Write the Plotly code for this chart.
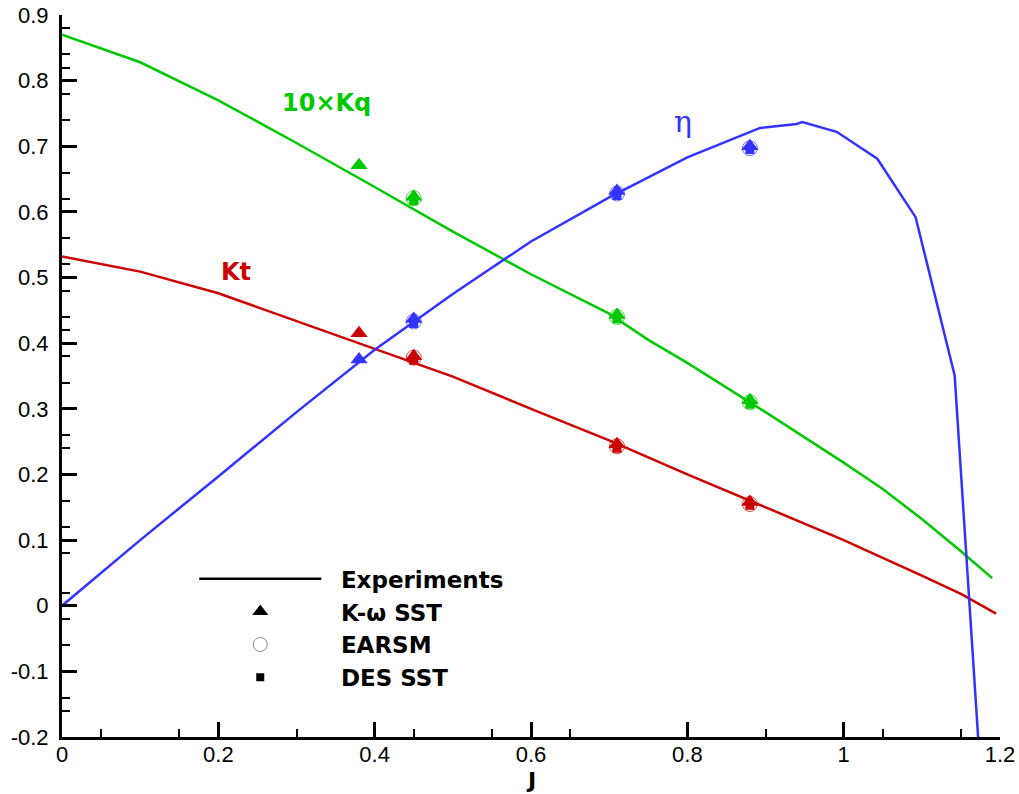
import plotly.graph_objects as go

# ---- data ----
J_kt_exp = [0, 0.1, 0.2, 0.3, 0.4, 0.5, 0.6, 0.7, 0.8, 0.9, 1.0, 1.1, 1.15, 1.195]
Kt_exp = [0.532, 0.509, 0.476, 0.434, 0.392, 0.349, 0.300, 0.252, 0.200, 0.150, 0.100, 0.046, 0.018, -0.012]

J_kq_exp = [0, 0.1, 0.2, 0.3, 0.4, 0.5, 0.6, 0.7, 0.75, 0.8, 0.9, 1.0, 1.05, 1.1, 1.15, 1.19]
Kq10_exp = [0.870, 0.828, 0.770, 0.705, 0.638, 0.570, 0.505, 0.445, 0.405, 0.370, 0.295, 0.218, 0.178, 0.132, 0.083, 0.042]

J_eta_exp = [0, 0.1, 0.2, 0.3, 0.4, 0.5, 0.6, 0.7, 0.8, 0.867, 0.893, 0.94, 0.947, 0.991, 1.043, 1.092, 1.142, 1.172]
Eta_exp = [0, 0.100, 0.197, 0.295, 0.390, 0.475, 0.555, 0.622, 0.683, 0.716, 0.728, 0.734, 0.737, 0.722, 0.681, 0.592, 0.351, -0.2]

J_sst = [0.38, 0.45, 0.71, 0.88]
Kt_sst = [0.415, 0.380, 0.246, 0.158]
Kq10_sst = [0.671, 0.623, 0.443, 0.313]
Eta_sst = [0.375, 0.437, 0.632, 0.700]

J_earsm = [0.45, 0.71, 0.88]
Kt_earsm = [0.378, 0.243, 0.155]
Kq10_earsm = [0.621, 0.440, 0.310]
Eta_earsm = [0.433, 0.628, 0.697]

J_des = [0.45, 0.71, 0.88]
Kt_des = [0.374, 0.240, 0.153]
Kq10_des = [0.617, 0.437, 0.307]
Eta_des = [0.430, 0.625, 0.695]

x_tickvals = [0, 0.2, 0.4, 0.6, 0.8, 1.0, 1.2]
x_ticktext = ["0", "0.2", "0.4", "0.6", "0.8", "1", "1.2"]
y_tickvals = [-0.2, -0.1, 0, 0.1, 0.2, 0.3, 0.4, 0.5, 0.6, 0.7, 0.8, 0.9]
y_ticktext = ["-0.2", "-0.1", "0", "0.1", "0.2", "0.3", "0.4", "0.5", "0.6", "0.7", "0.8", "0.9"]
x_minor = [0.05, 0.15, 0.3, 0.45, 0.55, 0.65, 0.9, 1.05, 1.15]
y_minor = [0.88, 0.84, 0.82, 0.78, 0.74, 0.66, 0.62, 0.56, 0.52, 0.48, 0.44, 0.42, 0.38, 0.34,
           0.26, 0.24, 0.16, 0.12, 0.08, 0.02, -0.02, -0.06, -0.14, -0.16]

legend_names = ["Experiments", "K-ω SST", "EARSM", "DES SST"]
x_title = "J"

RED = "#cc0000"
GREEN = "#00c800"
BLUE = "#3333ff"

fig = go.Figure()

# experiments (lines)
for xs, ys, c in [(J_kq_exp, Kq10_exp, GREEN), (J_kt_exp, Kt_exp, RED), (J_eta_exp, Eta_exp, BLUE)]:
    fig.add_trace(go.Scatter(x=xs, y=ys, mode="lines", line=dict(color=c, width=2.5),
                             showlegend=False, hoverinfo="skip"))

# EARSM (open circles)
for ys, c in [(Kq10_earsm, GREEN), (Kt_earsm, RED), (Eta_earsm, BLUE)]:
    fig.add_trace(go.Scatter(x=J_earsm, y=ys, mode="markers", showlegend=False,
                             marker=dict(symbol="circle-open", size=15, color=c, opacity=0.7,
                                         line=dict(color=c, width=1))))
# DES SST (squares)
for ys, c in [(Kq10_des, GREEN), (Kt_des, RED), (Eta_des, BLUE)]:
    fig.add_trace(go.Scatter(x=J_des, y=ys, mode="markers", showlegend=False,
                             marker=dict(symbol="square", size=9, color=c)))
# K-omega SST (triangles)
for ys, c in [(Kq10_sst, GREEN), (Kt_sst, RED), (Eta_sst, BLUE)]:
    fig.add_trace(go.Scatter(x=J_sst, y=ys, mode="markers", showlegend=False,
                             marker=dict(symbol="triangle-up", size=15, color=c)))

pad = "\u00a0\u00a0"
# legend entries (black symbols)
fig.add_trace(go.Scatter(x=[None], y=[None], mode="lines", name=pad + "<b>" + legend_names[0] + "</b>",
                         line=dict(color="black", width=2.5)))
fig.add_trace(go.Scatter(x=[None], y=[None], mode="markers", name=pad + "<b>" + legend_names[1] + "</b>",
                         marker=dict(symbol="triangle-up", size=14, color="black")))
fig.add_trace(go.Scatter(x=[None], y=[None], mode="markers", name=pad + "<b>" + legend_names[2] + "</b>",
                         marker=dict(symbol="circle-open", size=14, color="#888888",
                                     line=dict(color="#888888", width=1))))
fig.add_trace(go.Scatter(x=[None], y=[None], mode="markers", name=pad + "<b>" + legend_names[3] + "</b>",
                         marker=dict(symbol="square", size=8, color="black")))

fig.update_layout(
    width=1019, height=794,
    margin=dict(l=62, r=19, t=15, b=57, autoexpand=False),
    paper_bgcolor="white", plot_bgcolor="white",
    showlegend=True,
    legend=dict(x=0.141, y=0.249, xanchor="left", yanchor="top",
                bgcolor="rgba(0,0,0,0)", itemwidth=122, tracegroupgap=0,
                font=dict(family="DejaVu Sans", size=23, color="black"),
                itemsizing="trace"),
    annotations=[
        dict(x=0.338, y=0.766, xref="x", yref="y", text="<b>10×Kq</b>", showarrow=False,
             font=dict(family="DejaVu Sans", size=24, color=GREEN)),
        dict(x=0.223, y=0.508, xref="x", yref="y", text="<b>Kt</b>", showarrow=False,
             font=dict(family="DejaVu Sans", size=24, color=RED)),
        dict(x=0.794, y=0.738, xref="x", yref="y", text="η", showarrow=False,
             font=dict(family="DejaVu Serif", size=30, color=BLUE)),
        dict(x=0.6, y=0, xref="x", yref="paper", yanchor="middle", yshift=-43,
             text="<b>" + x_title + "</b>", showarrow=False,
             font=dict(family="DejaVu Sans", size=22, color="black")),
    ],
)

fig.update_xaxes(
    range=[0, 1.2], showgrid=False, zeroline=False, automargin=False,
    showline=True, linecolor="black", linewidth=3,
    tickmode="array", tickvals=x_tickvals, ticktext=x_ticktext,
    ticks="inside", ticklen=15, tickwidth=3, tickcolor="black", ticklabelstandoff=-4,
    tickfont=dict(family="Liberation Sans", size=22, color="black"),
    minor=dict(tickmode="array", tickvals=x_minor, ticks="inside", ticklen=8,
               tickwidth=1.5, tickcolor="black", showgrid=False),
)
fig.update_yaxes(
    range=[-0.2, 0.9], showgrid=False, zeroline=False, automargin=False,
    showline=True, linecolor="black", linewidth=3,
    tickmode="array", tickvals=y_tickvals, ticktext=y_ticktext,
    ticks="inside", ticklen=15, tickwidth=3, tickcolor="black", ticklabelstandoff=6,
    tickfont=dict(family="Liberation Sans", size=22, color="black"),
    minor=dict(tickmode="array", tickvals=y_minor, ticks="inside", ticklen=8,
               tickwidth=1.5, tickcolor="black", showgrid=False),
)

fig.write_html("out.html", config={"displayModeBar": False},
               post_script="document.body.style.margin='0';")
